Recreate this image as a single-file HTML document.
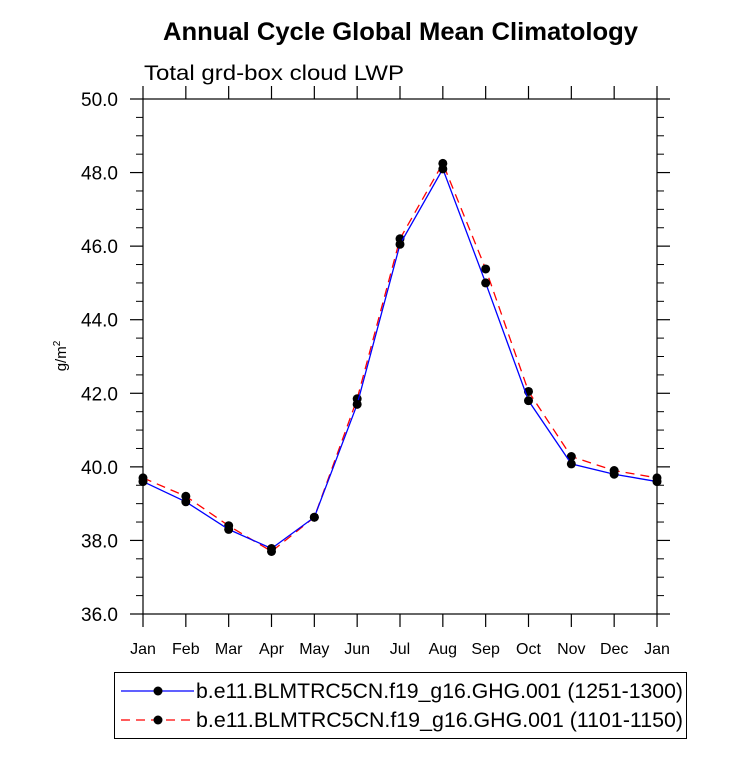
<!DOCTYPE html>
<html><head><meta charset="utf-8"><style>
body{margin:0;background:#fff;}
svg text{font-family:"Liberation Sans",Arial,sans-serif;}
</style></head><body>
<svg id="c" width="733" height="763" xmlns="http://www.w3.org/2000/svg">
<text x="163" y="40" textLength="475" lengthAdjust="spacingAndGlyphs" font-size="25" font-weight="bold">Annual Cycle Global Mean Climatology</text>
<text x="144" y="80" textLength="260" lengthAdjust="spacingAndGlyphs" font-size="21">Total grd-box cloud LWP</text>
<text transform="translate(66,356) rotate(-90)" text-anchor="middle" font-size="15">g/m<tspan dy="-6" font-size="10">2</tspan></text>
<g id="axes"></g>
<g id="series"></g>
<g>
<rect x="114.5" y="672.5" width="572" height="66" fill="none" stroke="#000" stroke-width="1"/>
<g>
<line x1="121" y1="691" x2="194" y2="691" stroke="#0000ff" stroke-width="1.3"/>
<circle cx="158" cy="691" r="4.5" fill="#000"/>
<text x="196" y="698" textLength="487" lengthAdjust="spacingAndGlyphs" font-size="21">b.e11.BLMTRC5CN.f19_g16.GHG.001 (1251-1300)</text>
</g>
<g>
<line x1="121" y1="720" x2="194" y2="720" stroke="#ff0000" stroke-width="1.3" stroke-dasharray="9,6"/>
<circle cx="158" cy="720" r="4.5" fill="#000"/>
<text x="196" y="727" textLength="487" lengthAdjust="spacingAndGlyphs" font-size="21">b.e11.BLMTRC5CN.f19_g16.GHG.001 (1101-1150)</text>
</g>
</g>
</svg>
<script>
const months = ["Jan","Feb","Mar","Apr","May","Jun","Jul","Aug","Sep","Oct","Nov","Dec","Jan"];
const series1 = [39.6,39.05,38.3,37.78,38.63,41.7,46.05,48.1,45.0,41.8,40.08,39.8,39.6];
const series2 = [39.7,39.2,38.4,37.7,38.63,41.85,46.2,48.25,45.38,42.05,40.28,39.9,39.7];
const yTicks = ["36.0","38.0","40.0","42.0","44.0","46.0","48.0","50.0"];
const NS="http://www.w3.org/2000/svg";
const L=143,R=657,T=99,B=614,ymin=36,ymax=50;
const xs=i=>L+(R-L)*i/(months.length-1);
const ys=v=>B-(B-T)*(v-ymin)/(ymax-ymin);
function mk(tag,attrs,parent){const e=document.createElementNS(NS,tag);for(const k in attrs)e.setAttribute(k,attrs[k]);parent.appendChild(e);return e;}
const ax=document.getElementById('axes');
const frame=mk('rect',{x:L,y:T,width:R-L,height:B-T,fill:'none',stroke:'#000','stroke-width':1.2},ax);


months.forEach((m,i)=>{
  const x=xs(i);
  mk('line',{x1:x,y1:B,x2:x,y2:B+13,stroke:'#000','stroke-width':1.2},ax);
  mk('line',{x1:x,y1:T,x2:x,y2:T-13,stroke:'#000','stroke-width':1.2},ax);
  const t=mk('text',{x:x,y:B+40,'text-anchor':'middle','font-size':16},ax);
  t.textContent=m;
  
  
});
yTicks.forEach(s=>{
  const v=parseFloat(s),y=ys(v);
  mk('line',{x1:L,y1:y,x2:L-13,y2:y,stroke:'#000','stroke-width':1.2},ax);
  mk('line',{x1:R,y1:y,x2:R+13,y2:y,stroke:'#000','stroke-width':1.2},ax);
  const t=mk('text',{x:L-25,y:y+7,'text-anchor':'end','font-size':19},ax);
  t.textContent=s;
  
  
});
for(let v=ymin;v<ymax;v+=0.5){ if(Math.abs(v%2)<1e-6) continue;
  const y=ys(v);
  mk('line',{x1:L,y1:y,x2:L-7,y2:y,stroke:'#000','stroke-width':1},ax);
  mk('line',{x1:R,y1:y,x2:R+7,y2:y,stroke:'#000','stroke-width':1},ax);
}
const sg=document.getElementById('series');
function draw(data,color,dash,name){
  const g=mk('g',{},sg);
  
  
  const p=mk('polyline',{points:data.map((v,i)=>xs(i)+','+ys(v)).join(' '),fill:'none',stroke:color,'stroke-width':1.3},g);
  if(dash)p.setAttribute('stroke-dasharray',dash);
  data.forEach((v,i)=>{
    const c=mk('circle',{cx:xs(i),cy:ys(v),r:4.5,fill:'#000'},g);
    
    
  });
}
draw(series2,'#ff0000','9,6','series-1101-1150');
draw(series1,'#0000ff',null,'series-1251-1300');
</script>
</body></html>
